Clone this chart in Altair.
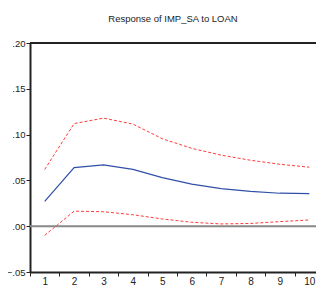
import altair as alt
import pandas as pd

periods = [1, 2, 3, 4, 5, 6, 7, 8, 9, 10]
response = [0.027, 0.064, 0.067, 0.062, 0.053, 0.046, 0.041, 0.038, 0.036, 0.0355]
upper = [0.062, 0.112, 0.118, 0.1115, 0.0955, 0.085, 0.0776, 0.072, 0.0676, 0.0644]
lower = [-0.010, 0.0164, 0.0158, 0.0125, 0.0079, 0.0043, 0.0025, 0.003, 0.005, 0.0068]

rows = []
for p, r, u, l in zip(periods, response, upper, lower):
    rows.append({"period": p, "value": r, "series": "resp"})
    rows.append({"period": p, "value": u, "series": "upper"})
    rows.append({"period": p, "value": l, "series": "lower"})
df = pd.DataFrame(rows)

yscale = alt.Scale(domain=[-0.05, 0.2], nice=False, zero=False)
xenc = alt.X("period:O", scale=alt.Scale(paddingInner=0, paddingOuter=0, range=[0, 294]),
             axis=alt.Axis(title=None, labelAngle=0, tickBand="extent", tickSize=4,
                           tickColor="#222", domainColor="#222", domainWidth=2,
                           labelFont="Liberation Sans", labelFontSize=10, labelColor="#222",
                           labelPadding=0, grid=False))
yenc = alt.Y("value:Q", scale=yscale,
             axis=alt.Axis(title=None, values=[-0.05, 0, 0.05, 0.1, 0.15, 0.2],
                           labelExpr="replace(format(datum.value, '.2f'), '0.', '.')",
                           tickSize=4, tickColor="#222", domainColor="#222", domainWidth=2,
                           labelFont="Liberation Sans", labelFontSize=9.5, labelColor="#222",
                           labelPadding=1, grid=False))

base = alt.Chart(df)

bands = base.transform_filter("datum.series != 'resp'").mark_line(
    color="#ff3b3b", strokeWidth=1, strokeDash=[3, 2]).encode(
    x=xenc, y=yenc, detail="series:N")

resp = base.transform_filter("datum.series == 'resp'").mark_line(
    color="#3050a8", strokeWidth=1.2).encode(x=xenc, y=yenc)

zero = alt.Chart(pd.DataFrame({"value": [0.0]})).mark_rule(color="#888888", strokeWidth=2).encode(
    y=alt.Y("value:Q", scale=yscale, title=None))

top = alt.Chart(pd.DataFrame({"value": [0.2]})).mark_rule(color="#222", strokeWidth=2).encode(
    y=alt.Y("value:Q", scale=yscale, title=None))

chart = alt.layer(bands, resp, zero, top).properties(
    width=286, height=229,
    title=alt.TitleParams("Response of IMP_SA to LOAN", font="Liberation Sans",
                          fontSize=9.5, fontWeight="normal", color="#222", offset=15),
    autosize=alt.AutoSizeParams(type="none"),
    padding={"left": 22, "top": 35, "right": 0, "bottom": 13},
).configure_view(strokeWidth=0).configure(background="white")

chart.save("out.html", embed_options={"renderer": "svg", "actions": False})
